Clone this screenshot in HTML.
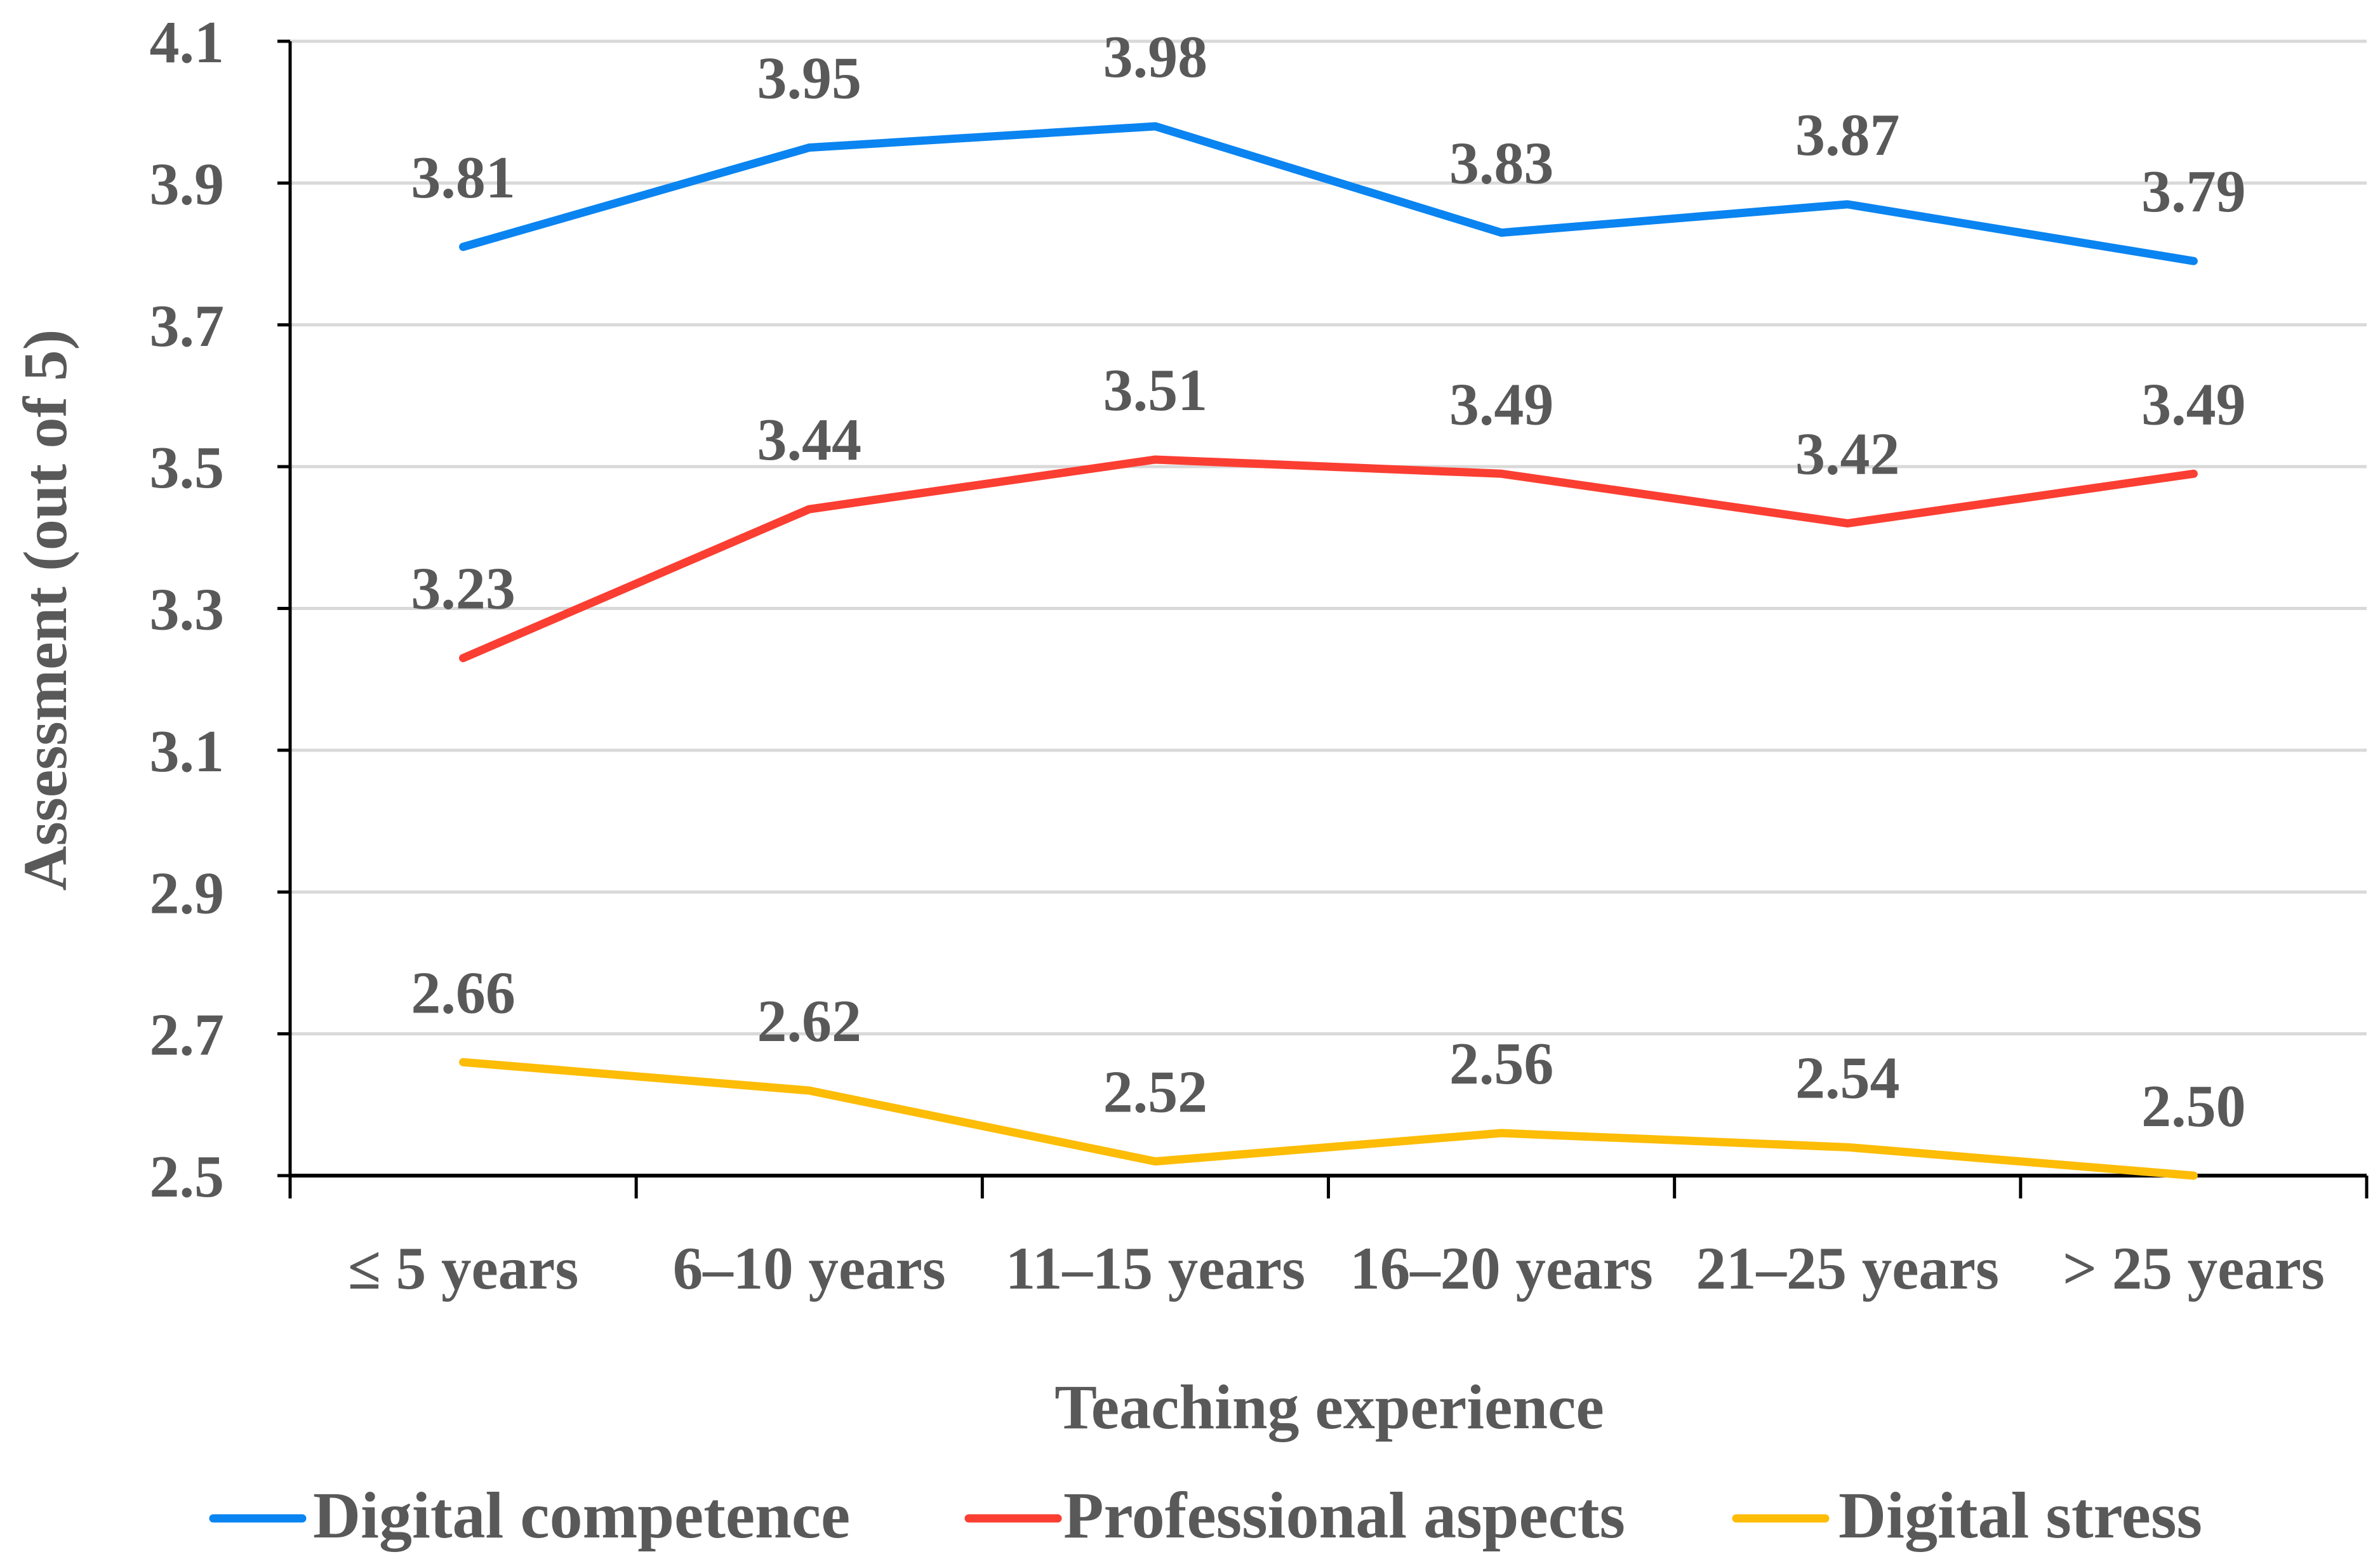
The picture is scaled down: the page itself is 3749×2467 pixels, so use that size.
<!DOCTYPE html>
<html><head><meta charset="utf-8"><style>
html,body{margin:0;padding:0;background:#fff;}
svg text{font-family:"Liberation Serif",serif;font-weight:bold;fill:#595959;}
</style></head><body>
<svg id="chart" width="3749" height="2462" viewBox="0 0 3749 2462" xmlns="http://www.w3.org/2000/svg"></svg>
<script>
const categories=["≤ 5 years","6–10 years","11–15 years","16–20 years","21–25 years","> 25 years"];
const digitalCompetence=[3.81,3.95,3.98,3.83,3.87,3.79];
const professionalAspects=[3.23,3.44,3.51,3.49,3.42,3.49];
const digitalStress=[2.66,2.62,2.52,2.56,2.54,2.50];
const yTicks=[2.5,2.7,2.9,3.1,3.3,3.5,3.7,3.9,4.1];
const seriesNames=["Digital competence","Professional aspects","Digital stress"];

const NS="http://www.w3.org/2000/svg";
const svg=document.getElementById('chart');
const L=457,R=3728,T=65,B=1852,yMin=2.5,yMax=4.1;
const bw=(R-L)/categories.length;
function xs(i){return L+bw*(i+0.5);}
function ys(v){return B-(v-yMin)/(yMax-yMin)*(B-T);}
function mk(tag,attrs,parent){const e=document.createElementNS(NS,tag);for(const k in attrs)e.setAttribute(k,attrs[k]);(parent||svg).appendChild(e);return e;}

yTicks.forEach(function(t){
  const g=mk('line',{x1:L,x2:R,y1:ys(t),y2:ys(t),stroke:t===yMin?'#000':'#d9d9d9','stroke-width':t===yMin?6:5});
  
  
  const tk=mk('line',{x1:L-20,x2:L,y1:ys(t),y2:ys(t),stroke:'#000','stroke-width':5});
  
  
  const tx=mk('text',{x:353,y:ys(t)+33,'text-anchor':'end','font-size':94});
  tx.textContent=t.toFixed(1);
  
  
});
const ax=mk('line',{x1:L,x2:L,y1:T,y2:B+36,stroke:'#000','stroke-width':5});


for(let i=0;i<=categories.length;i++){
  const tk=mk('line',{x1:L+bw*i,x2:L+bw*i,y1:B,y2:B+36,stroke:'#000','stroke-width':5});
  
  
}
categories.forEach(function(c,i){
  const tx=mk('text',{x:xs(i),y:2030,'text-anchor':'middle','font-size':95});
  tx.textContent=c;
  
  
});
const series=[[digitalCompetence,'#0a84f0'],[professionalAspects,'#fb3e32'],[digitalStress,'#fdbc06']];
series.forEach(function(s,si){
  const pts=s[0].map(function(v,i){return xs(i)+','+ys(v);}).join(' ');
  const pl=mk('polyline',{points:pts,fill:'none',stroke:s[1],'stroke-width':13,'stroke-linecap':'round','stroke-linejoin':'round'});
  
  
  s[0].forEach(function(v,i){
    const tx=mk('text',{x:xs(i),y:ys(v)-78,'text-anchor':'middle','font-size':94});
    tx.textContent=v.toFixed(2);
    
    
  });
});
const xt=mk('text',{x:2094,y:2250,'text-anchor':'middle','font-size':100});
xt.textContent='Teaching experience';


const yt=mk('text',{x:0,y:0,'text-anchor':'middle','font-size':98,transform:'translate(104,961) rotate(-90)'});
yt.textContent='Assessment (out of 5)';


const legX=[[336,493],[1526,1675],[2735,2896]];
seriesNames.forEach(function(n,i){
  const ln=mk('line',{x1:legX[i][0],x2:legX[i][0]+140,y1:2392,y2:2392,stroke:series[i][1],'stroke-width':13,'stroke-linecap':'round'});
  
  
  const tx=mk('text',{x:legX[i][1],y:2422,'font-size':104});
  tx.textContent=n;
  
  
});
</script>
</body></html>
